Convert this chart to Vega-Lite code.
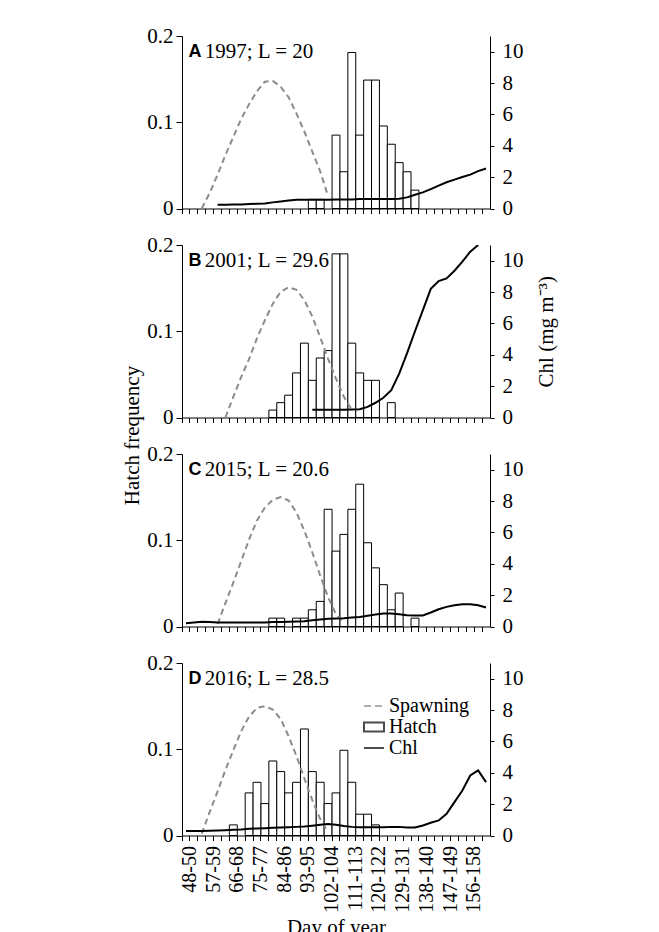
{
"$schema": "https://vega.github.io/schema/vega-lite/v6.json",
"padding": {"left": 121, "top": 25, "right": 5, "bottom": 0},
"background": "white",
"spacing": 36,
"bounds": "flush",
"config": {
  "view": {"stroke": null},
  "font": "Liberation Serif",
  "axis": {"labelFont": "Liberation Serif", "titleFont": "Liberation Serif", "labelColor": "black", "titleColor": "black", "domainColor": "black", "tickColor": "black", "titleFontWeight": "normal", "grid": false, "labelFontSize": 21, "titleFontSize": 21, "domainWidth": 1, "tickWidth": 1},
  "legend": {"labelFont": "Liberation Serif", "labelFontSize": 21, "labelColor": "black"}
},
"datasets": {
  "hatch": [
    {"p":"A","b":"96-98","v":0.0106},{"p":"A","b":"99-101","v":0.0106},{"p":"A","b":"105-107","v":0.0851},{"p":"A","b":"108-110","v":0.0426},{"p":"A","b":"111-113","v":0.1809},{"p":"A","b":"114-116","v":0.0851},{"p":"A","b":"117-119","v":0.1489},{"p":"A","b":"120-122","v":0.1489},{"p":"A","b":"123-125","v":0.0957},{"p":"A","b":"126-128","v":0.0745},{"p":"A","b":"129-131","v":0.0532},{"p":"A","b":"132-134","v":0.0426},{"p":"A","b":"135-137","v":0.0213},
    {"p":"B","b":"81-83","v":0.0086},{"p":"B","b":"84-86","v":0.0172},{"p":"B","b":"87-89","v":0.0259},{"p":"B","b":"90-92","v":0.0517},{"p":"B","b":"93-95","v":0.0862},{"p":"B","b":"96-98","v":0.0431},{"p":"B","b":"99-101","v":0.069},{"p":"B","b":"102-104","v":0.0776},{"p":"B","b":"105-107","v":0.1897},{"p":"B","b":"108-110","v":0.1897},{"p":"B","b":"111-113","v":0.0862},{"p":"B","b":"114-116","v":0.0517},{"p":"B","b":"117-119","v":0.0431},{"p":"B","b":"120-122","v":0.0431},{"p":"B","b":"126-128","v":0.0172},
    {"p":"C","b":"81-83","v":0.0097},{"p":"C","b":"84-86","v":0.0097},{"p":"C","b":"90-92","v":0.0097},{"p":"C","b":"93-95","v":0.0097},{"p":"C","b":"96-98","v":0.0194},{"p":"C","b":"99-101","v":0.0291},{"p":"C","b":"102-104","v":0.1359},{"p":"C","b":"105-107","v":0.0874},{"p":"C","b":"108-110","v":0.1068},{"p":"C","b":"111-113","v":0.1359},{"p":"C","b":"114-116","v":0.165},{"p":"C","b":"117-119","v":0.0971},{"p":"C","b":"120-122","v":0.068},{"p":"C","b":"123-125","v":0.0485},{"p":"C","b":"126-128","v":0.0194},{"p":"C","b":"129-131","v":0.0388},{"p":"C","b":"135-137","v":0.0097},
    {"p":"D","b":"66-68","v":0.0123},{"p":"D","b":"72-74","v":0.0494},{"p":"D","b":"75-77","v":0.0617},{"p":"D","b":"78-80","v":0.037},{"p":"D","b":"81-83","v":0.0864},{"p":"D","b":"84-86","v":0.0741},{"p":"D","b":"87-89","v":0.0494},{"p":"D","b":"90-92","v":0.0617},{"p":"D","b":"93-95","v":0.1235},{"p":"D","b":"96-98","v":0.0741},{"p":"D","b":"99-101","v":0.0617},{"p":"D","b":"102-104","v":0.037},{"p":"D","b":"105-107","v":0.0494},{"p":"D","b":"108-110","v":0.0988},{"p":"D","b":"111-113","v":0.0617},{"p":"D","b":"114-116","v":0.0247},{"p":"D","b":"117-119","v":0.0247},{"p":"D","b":"120-122","v":0.0123}
  ],
  "spawn": [
    {"p":"A","b":"54-56","v":0},{"p":"A","b":"57-59","v":0.018},{"p":"A","b":"60-62","v":0.039},{"p":"A","b":"63-65","v":0.062},{"p":"A","b":"66-68","v":0.083},{"p":"A","b":"69-71","v":0.104},{"p":"A","b":"72-74","v":0.121},{"p":"A","b":"75-77","v":0.136},{"p":"A","b":"78-80","v":0.147},{"p":"A","b":"81-83","v":0.148},{"p":"A","b":"84-86","v":0.141},{"p":"A","b":"87-89","v":0.129},{"p":"A","b":"90-92","v":0.11},{"p":"A","b":"93-95","v":0.089},{"p":"A","b":"96-98","v":0.066},{"p":"A","b":"99-101","v":0.043},{"p":"A","b":"102-104","v":0.014},
    {"p":"B","b":"63-65","v":0},{"p":"B","b":"66-68","v":0.024},{"p":"B","b":"69-71","v":0.047},{"p":"B","b":"72-74","v":0.068},{"p":"B","b":"75-77","v":0.092},{"p":"B","b":"78-80","v":0.113},{"p":"B","b":"81-83","v":0.132},{"p":"B","b":"84-86","v":0.146},{"p":"B","b":"87-89","v":0.151},{"p":"B","b":"90-92","v":0.148},{"p":"B","b":"93-95","v":0.136},{"p":"B","b":"96-98","v":0.117},{"p":"B","b":"99-101","v":0.093},{"p":"B","b":"102-104","v":0.068},{"p":"B","b":"105-107","v":0.045},{"p":"B","b":"108-110","v":0.024},{"p":"B","b":"111-113","v":0.009},
    {"p":"C","b":"60-62","v":0.003},{"p":"C","b":"63-65","v":0.027},{"p":"C","b":"66-68","v":0.051},{"p":"C","b":"69-71","v":0.076},{"p":"C","b":"72-74","v":0.101},{"p":"C","b":"75-77","v":0.123},{"p":"C","b":"78-80","v":0.138},{"p":"C","b":"81-83","v":0.147},{"p":"C","b":"84-86","v":0.15},{"p":"C","b":"87-89","v":0.146},{"p":"C","b":"90-92","v":0.132},{"p":"C","b":"93-95","v":0.111},{"p":"C","b":"96-98","v":0.086},{"p":"C","b":"99-101","v":0.059},{"p":"C","b":"102-104","v":0.034},{"p":"C","b":"105-107","v":0.014},{"p":"C","b":"108-110","v":0.005},
    {"p":"D","b":"54-56","v":0.002},{"p":"D","b":"57-59","v":0.027},{"p":"D","b":"60-62","v":0.051},{"p":"D","b":"63-65","v":0.076},{"p":"D","b":"66-68","v":0.099},{"p":"D","b":"69-71","v":0.121},{"p":"D","b":"72-74","v":0.138},{"p":"D","b":"75-77","v":0.148},{"p":"D","b":"78-80","v":0.15},{"p":"D","b":"81-83","v":0.146},{"p":"D","b":"84-86","v":0.135},{"p":"D","b":"87-89","v":0.115},{"p":"D","b":"90-92","v":0.092},{"p":"D","b":"93-95","v":0.066},{"p":"D","b":"96-98","v":0.041},{"p":"D","b":"99-101","v":0.019},{"p":"D","b":"102-104","v":0.004}
  ],
  "chl": [
    {"p":"A","b":"60-62","v":0.24},{"p":"A","b":"63-65","v":0.24},{"p":"A","b":"66-68","v":0.26},{"p":"A","b":"69-71","v":0.26},{"p":"A","b":"72-74","v":0.28},{"p":"A","b":"75-77","v":0.3},{"p":"A","b":"78-80","v":0.32},{"p":"A","b":"81-83","v":0.39},{"p":"A","b":"84-86","v":0.45},{"p":"A","b":"87-89","v":0.51},{"p":"A","b":"90-92","v":0.56},{"p":"A","b":"93-95","v":0.56},{"p":"A","b":"96-98","v":0.56},{"p":"A","b":"99-101","v":0.56},{"p":"A","b":"102-104","v":0.56},{"p":"A","b":"105-107","v":0.58},{"p":"A","b":"108-110","v":0.58},{"p":"A","b":"111-113","v":0.58},{"p":"A","b":"114-116","v":0.6},{"p":"A","b":"117-119","v":0.6},{"p":"A","b":"120-122","v":0.6},{"p":"A","b":"123-125","v":0.6},{"p":"A","b":"126-128","v":0.6},{"p":"A","b":"129-131","v":0.62},{"p":"A","b":"132-134","v":0.71},{"p":"A","b":"135-137","v":0.88},{"p":"A","b":"138-140","v":1.03},{"p":"A","b":"141-143","v":1.24},{"p":"A","b":"144-146","v":1.46},{"p":"A","b":"147-149","v":1.67},{"p":"A","b":"150-152","v":1.84},{"p":"A","b":"153-155","v":2.01},{"p":"A","b":"156-158","v":2.16},{"p":"A","b":"159-161","v":2.38},{"p":"A","b":"162-164","v":2.55},
    {"p":"B","b":"96-98","v":0.49},{"p":"B","b":"99-101","v":0.49},{"p":"B","b":"102-104","v":0.49},{"p":"B","b":"105-107","v":0.49},{"p":"B","b":"108-110","v":0.49},{"p":"B","b":"111-113","v":0.51},{"p":"B","b":"114-116","v":0.53},{"p":"B","b":"117-119","v":0.68},{"p":"B","b":"120-122","v":0.94},{"p":"B","b":"123-125","v":1.26},{"p":"B","b":"126-128","v":1.74},{"p":"B","b":"129-131","v":2.8},{"p":"B","b":"132-134","v":4.1},{"p":"B","b":"135-137","v":5.5},{"p":"B","b":"138-140","v":6.85},{"p":"B","b":"141-143","v":8.2},{"p":"B","b":"144-146","v":8.7},{"p":"B","b":"147-149","v":8.87},{"p":"B","b":"150-152","v":9.36},{"p":"B","b":"153-155","v":9.94},{"p":"B","b":"156-158","v":10.57},{"p":"B","b":"159-161","v":11.0},
    {"p":"C","b":"48-50","v":0.21},{"p":"C","b":"51-53","v":0.25},{"p":"C","b":"54-56","v":0.3},{"p":"C","b":"57-59","v":0.28},{"p":"C","b":"60-62","v":0.25},{"p":"C","b":"63-65","v":0.25},{"p":"C","b":"66-68","v":0.25},{"p":"C","b":"69-71","v":0.25},{"p":"C","b":"72-74","v":0.25},{"p":"C","b":"75-77","v":0.25},{"p":"C","b":"78-80","v":0.25},{"p":"C","b":"81-83","v":0.28},{"p":"C","b":"84-86","v":0.28},{"p":"C","b":"87-89","v":0.3},{"p":"C","b":"90-92","v":0.32},{"p":"C","b":"93-95","v":0.34},{"p":"C","b":"96-98","v":0.4},{"p":"C","b":"99-101","v":0.44},{"p":"C","b":"102-104","v":0.49},{"p":"C","b":"105-107","v":0.51},{"p":"C","b":"108-110","v":0.53},{"p":"C","b":"111-113","v":0.57},{"p":"C","b":"114-116","v":0.61},{"p":"C","b":"117-119","v":0.68},{"p":"C","b":"120-122","v":0.76},{"p":"C","b":"123-125","v":0.83},{"p":"C","b":"126-128","v":0.83},{"p":"C","b":"129-131","v":0.78},{"p":"C","b":"132-134","v":0.72},{"p":"C","b":"135-137","v":0.7},{"p":"C","b":"138-140","v":0.7},{"p":"C","b":"141-143","v":0.89},{"p":"C","b":"144-146","v":1.1},{"p":"C","b":"147-149","v":1.25},{"p":"C","b":"150-152","v":1.36},{"p":"C","b":"153-155","v":1.42},{"p":"C","b":"156-158","v":1.42},{"p":"C","b":"159-161","v":1.36},{"p":"C","b":"162-164","v":1.21},
    {"p":"D","b":"48-50","v":0.28},{"p":"D","b":"51-53","v":0.28},{"p":"D","b":"54-56","v":0.28},{"p":"D","b":"57-59","v":0.3},{"p":"D","b":"60-62","v":0.32},{"p":"D","b":"63-65","v":0.34},{"p":"D","b":"66-68","v":0.36},{"p":"D","b":"69-71","v":0.38},{"p":"D","b":"72-74","v":0.43},{"p":"D","b":"75-77","v":0.45},{"p":"D","b":"78-80","v":0.47},{"p":"D","b":"81-83","v":0.49},{"p":"D","b":"84-86","v":0.51},{"p":"D","b":"87-89","v":0.53},{"p":"D","b":"90-92","v":0.55},{"p":"D","b":"93-95","v":0.57},{"p":"D","b":"96-98","v":0.62},{"p":"D","b":"99-101","v":0.68},{"p":"D","b":"102-104","v":0.74},{"p":"D","b":"105-107","v":0.68},{"p":"D","b":"108-110","v":0.6},{"p":"D","b":"111-113","v":0.55},{"p":"D","b":"114-116","v":0.53},{"p":"D","b":"117-119","v":0.53},{"p":"D","b":"120-122","v":0.53},{"p":"D","b":"123-125","v":0.53},{"p":"D","b":"126-128","v":0.55},{"p":"D","b":"129-131","v":0.55},{"p":"D","b":"132-134","v":0.51},{"p":"D","b":"135-137","v":0.51},{"p":"D","b":"138-140","v":0.64},{"p":"D","b":"141-143","v":0.81},{"p":"D","b":"144-146","v":0.96},{"p":"D","b":"147-149","v":1.38},{"p":"D","b":"150-152","v":2.13},{"p":"D","b":"153-155","v":2.87},{"p":"D","b":"156-158","v":3.83},{"p":"D","b":"159-161","v":4.15},{"p":"D","b":"162-164","v":3.4}
  ],
  "labels": [
    {"p":"A","letter":"A","txt":"1997; L = 20"},
    {"p":"B","letter":"B","txt":"2001; L = 29.6"},
    {"p":"C","letter":"C","txt":"2015; L = 20.6"},
    {"p":"D","letter":"D","txt":"2016; L = 28.5"}
  ]
},
"vconcat": [
  {
    "width": 308, "height": 172.5,
    "layer": [
      {"layer": [
        {"data": {"name": "hatch"}, "transform": [{"filter": "datum.p === 'A'"}],
         "mark": {"type": "bar", "fill": "white", "stroke": "black", "strokeWidth": 1},
         "encoding": {
           "x": {"field": "b", "type": "ordinal", "scale": {"domain": ["48-50","51-53","54-56","57-59","60-62","63-65","66-68","69-71","72-74","75-77","78-80","81-83","84-86","87-89","90-92","93-95","96-98","99-101","102-104","105-107","108-110","111-113","114-116","117-119","120-122","123-125","126-128","129-131","132-134","135-137","138-140","141-143","144-146","147-149","150-152","153-155","156-158","159-161","162-164"], "paddingInner": 0, "paddingOuter": 0}, "axis": {"title": null, "labels": false, "tickSize": 5, "bandPosition": 0}},
           "y": {"field": "v", "type": "quantitative", "scale": {"domain": [0, 0.2], "nice": false}, "axis": {"values": [0, 0.1, 0.2], "format": ".1~f", "title": null, "tickSize": 6, "labelPadding": 3}}
         }},
        {"data": {"name": "spawn"}, "transform": [{"filter": "datum.p === 'A'"}],
         "mark": {"type": "line", "stroke": "#8c8c8c", "strokeWidth": 2, "strokeDash": [6, 4]},
         "encoding": {"x": {"field": "b", "type": "ordinal"}, "y": {"field": "v", "type": "quantitative"}, "order": {"value": null}}},
        {"data": {"name": "labels"}, "transform": [{"filter": "datum.p === 'A'"}],
         "mark": {"type": "text", "font": "Liberation Sans", "fontWeight": "bold", "fontSize": 18, "align": "left", "baseline": "middle", "dx": 2.5},
         "encoding": {"x": {"datum": "48-50", "type": "ordinal"}, "y": {"datum": 0.181}, "text": {"field": "letter"}}},
        {"data": {"name": "labels"}, "transform": [{"filter": "datum.p === 'A'"}],
         "mark": {"type": "text", "font": "Liberation Serif", "fontSize": 21, "align": "left", "baseline": "middle", "dx": 3},
         "encoding": {"x": {"datum": "54-56", "type": "ordinal"}, "y": {"datum": 0.181}, "text": {"field": "txt"}}}
      ]},
      {"data": {"name": "chl"}, "transform": [{"filter": "datum.p === 'A'"}],
       "mark": {"type": "line", "stroke": "black", "strokeWidth": 2, "clip": true},
       "encoding": {"x": {"field": "b", "type": "ordinal"}, "y": {"field": "v", "type": "quantitative", "scale": {"domain": [0, 11], "nice": false}, "axis": {"orient": "right", "values": [0, 2, 4, 6, 8, 10], "title": null, "tickSize": 4, "labelPadding": 8}}, "order": {"value": null}}}
    ],
    "resolve": {"scale": {"y": "independent"}}
  },
  {
    "width": 308, "height": 172.5,
    "layer": [
      {"layer": [
        {"data": {"name": "hatch"}, "transform": [{"filter": "datum.p === 'B'"}],
         "mark": {"type": "bar", "fill": "white", "stroke": "black", "strokeWidth": 1},
         "encoding": {
           "x": {"field": "b", "type": "ordinal", "scale": {"domain": ["48-50","51-53","54-56","57-59","60-62","63-65","66-68","69-71","72-74","75-77","78-80","81-83","84-86","87-89","90-92","93-95","96-98","99-101","102-104","105-107","108-110","111-113","114-116","117-119","120-122","123-125","126-128","129-131","132-134","135-137","138-140","141-143","144-146","147-149","150-152","153-155","156-158","159-161","162-164"], "paddingInner": 0, "paddingOuter": 0}, "axis": {"title": null, "labels": false, "tickSize": 5, "bandPosition": 0}},
           "y": {"field": "v", "type": "quantitative", "scale": {"domain": [0, 0.2], "nice": false}, "axis": {"values": [0, 0.1, 0.2], "format": ".1~f", "title": null, "tickSize": 6, "labelPadding": 3}}
         }},
        {"data": {"name": "spawn"}, "transform": [{"filter": "datum.p === 'B'"}],
         "mark": {"type": "line", "stroke": "#8c8c8c", "strokeWidth": 2, "strokeDash": [6, 4]},
         "encoding": {"x": {"field": "b", "type": "ordinal"}, "y": {"field": "v", "type": "quantitative"}, "order": {"value": null}}},
        {"data": {"name": "labels"}, "transform": [{"filter": "datum.p === 'B'"}],
         "mark": {"type": "text", "font": "Liberation Sans", "fontWeight": "bold", "fontSize": 18, "align": "left", "baseline": "middle", "dx": 2.5},
         "encoding": {"x": {"datum": "48-50", "type": "ordinal"}, "y": {"datum": 0.181}, "text": {"field": "letter"}}},
        {"data": {"name": "labels"}, "transform": [{"filter": "datum.p === 'B'"}],
         "mark": {"type": "text", "font": "Liberation Serif", "fontSize": 21, "align": "left", "baseline": "middle", "dx": 3},
         "encoding": {"x": {"datum": "54-56", "type": "ordinal"}, "y": {"datum": 0.181}, "text": {"field": "txt"}}}
      ]},
      {"data": {"name": "chl"}, "transform": [{"filter": "datum.p === 'B'"}],
       "mark": {"type": "line", "stroke": "black", "strokeWidth": 2, "clip": true},
       "encoding": {"x": {"field": "b", "type": "ordinal"}, "y": {"field": "v", "type": "quantitative", "scale": {"domain": [0, 11], "nice": false}, "axis": {"orient": "right", "values": [0, 2, 4, 6, 8, 10], "title": "Chl (mg m⁻³)", "titleAngle": 270, "titleBaseline": "top", "titlePadding": 12, "tickSize": 4, "labelPadding": 8}}, "order": {"value": null}}}
    ],
    "resolve": {"scale": {"y": "independent"}}
  },
  {
    "width": 308, "height": 172.5,
    "layer": [
      {"layer": [
        {"data": {"name": "hatch"}, "transform": [{"filter": "datum.p === 'C'"}],
         "mark": {"type": "bar", "fill": "white", "stroke": "black", "strokeWidth": 1},
         "encoding": {
           "x": {"field": "b", "type": "ordinal", "scale": {"domain": ["48-50","51-53","54-56","57-59","60-62","63-65","66-68","69-71","72-74","75-77","78-80","81-83","84-86","87-89","90-92","93-95","96-98","99-101","102-104","105-107","108-110","111-113","114-116","117-119","120-122","123-125","126-128","129-131","132-134","135-137","138-140","141-143","144-146","147-149","150-152","153-155","156-158","159-161","162-164"], "paddingInner": 0, "paddingOuter": 0}, "axis": {"title": null, "labels": false, "tickSize": 5, "bandPosition": 0}},
           "y": {"field": "v", "type": "quantitative", "scale": {"domain": [0, 0.2], "nice": false}, "axis": {"values": [0, 0.1, 0.2], "format": ".1~f", "title": "Hatch frequency", "titleY": -19, "titlePadding": 4, "tickSize": 6, "labelPadding": 3}}
         }},
        {"data": {"name": "spawn"}, "transform": [{"filter": "datum.p === 'C'"}],
         "mark": {"type": "line", "stroke": "#8c8c8c", "strokeWidth": 2, "strokeDash": [6, 4]},
         "encoding": {"x": {"field": "b", "type": "ordinal"}, "y": {"field": "v", "type": "quantitative"}, "order": {"value": null}}},
        {"data": {"name": "labels"}, "transform": [{"filter": "datum.p === 'C'"}],
         "mark": {"type": "text", "font": "Liberation Sans", "fontWeight": "bold", "fontSize": 18, "align": "left", "baseline": "middle", "dx": 2.5},
         "encoding": {"x": {"datum": "48-50", "type": "ordinal"}, "y": {"datum": 0.181}, "text": {"field": "letter"}}},
        {"data": {"name": "labels"}, "transform": [{"filter": "datum.p === 'C'"}],
         "mark": {"type": "text", "font": "Liberation Serif", "fontSize": 21, "align": "left", "baseline": "middle", "dx": 3},
         "encoding": {"x": {"datum": "54-56", "type": "ordinal"}, "y": {"datum": 0.181}, "text": {"field": "txt"}}}
      ]},
      {"data": {"name": "chl"}, "transform": [{"filter": "datum.p === 'C'"}],
       "mark": {"type": "line", "stroke": "black", "strokeWidth": 2, "clip": true},
       "encoding": {"x": {"field": "b", "type": "ordinal"}, "y": {"field": "v", "type": "quantitative", "scale": {"domain": [0, 11], "nice": false}, "axis": {"orient": "right", "values": [0, 2, 4, 6, 8, 10], "title": null, "tickSize": 4, "labelPadding": 8}}, "order": {"value": null}}}
    ],
    "resolve": {"scale": {"y": "independent"}}
  },
  {
    "width": 308, "height": 172.5,
    "layer": [
      {"layer": [
        {"data": {"name": "hatch"}, "transform": [{"filter": "datum.p === 'D'"}],
         "mark": {"type": "bar", "fill": "white", "stroke": "black", "strokeWidth": 1},
         "encoding": {
           "x": {"field": "b", "type": "ordinal", "scale": {"domain": ["48-50","51-53","54-56","57-59","60-62","63-65","66-68","69-71","72-74","75-77","78-80","81-83","84-86","87-89","90-92","93-95","96-98","99-101","102-104","105-107","108-110","111-113","114-116","117-119","120-122","123-125","126-128","129-131","132-134","135-137","138-140","141-143","144-146","147-149","150-152","153-155","156-158","159-161","162-164"], "paddingInner": 0, "paddingOuter": 0}, "axis": {"title": "Day of year", "tickSize": 5, "bandPosition": 0, "labelOffset": 3.94, "labelAngle": -90, "labelPadding": 5, "labelFontSize": 20, "labelOverlap": false, "titlePadding": 4, "labelExpr": "(toNumber(split(datum.value, '-')[0]) - 48) % 9 === 0 ? datum.value : ''"}},
           "y": {"field": "v", "type": "quantitative", "scale": {"domain": [0, 0.2], "nice": false}, "axis": {"values": [0, 0.1, 0.2], "format": ".1~f", "title": null, "tickSize": 6, "labelPadding": 3}}
         }},
        {"data": {"name": "spawn"}, "transform": [{"filter": "datum.p === 'D'"}],
         "mark": {"type": "line", "stroke": "#8c8c8c", "strokeWidth": 2, "strokeDash": [6, 4]},
         "encoding": {"x": {"field": "b", "type": "ordinal"}, "y": {"field": "v", "type": "quantitative"}, "order": {"value": null}}},
        {"data": {"name": "labels"}, "transform": [{"filter": "datum.p === 'D'"}],
         "mark": {"type": "text", "font": "Liberation Sans", "fontWeight": "bold", "fontSize": 18, "align": "left", "baseline": "middle", "dx": 2.5},
         "encoding": {"x": {"datum": "48-50", "type": "ordinal"}, "y": {"datum": 0.181}, "text": {"field": "letter"}}},
        {"data": {"name": "labels"}, "transform": [{"filter": "datum.p === 'D'"}],
         "mark": {"type": "text", "font": "Liberation Serif", "fontSize": 21, "align": "left", "baseline": "middle", "dx": 3},
         "encoding": {"x": {"datum": "54-56", "type": "ordinal"}, "y": {"datum": 0.181}, "text": {"field": "txt"}}},
        {"data": {"values": []},
         "mark": {"type": "point", "filled": false},
         "encoding": {
           "color": {"field": "s", "type": "nominal", "scale": {"domain": ["Spawning", "Hatch", "Chl"], "range": ["#8c8c8c", "black", "black"]}, "legend": {"title": null, "orient": "none", "legendX": 181, "legendY": 659, "padding": 0, "symbolSize": 400, "symbolStrokeWidth": 2, "labelOffset": 4, "rowPadding": 0, "labelFontSize": 20}},
           "shape": {"field": "s", "type": "nominal", "scale": {"domain": ["Spawning", "Hatch", "Chl"], "range": ["M-1,0H-0.3M0.1,0H0.8", "M-1,-0.45H1V0.45H-1Z", "M-1,0H1"]}}
         }}
      ]},
      {"data": {"name": "chl"}, "transform": [{"filter": "datum.p === 'D'"}],
       "mark": {"type": "line", "stroke": "black", "strokeWidth": 2, "clip": true},
       "encoding": {"x": {"field": "b", "type": "ordinal"}, "y": {"field": "v", "type": "quantitative", "scale": {"domain": [0, 11], "nice": false}, "axis": {"orient": "right", "values": [0, 2, 4, 6, 8, 10], "title": null, "tickSize": 4, "labelPadding": 8}}, "order": {"value": null}}}
    ],
    "resolve": {"scale": {"y": "independent"}}
  }
]
}
